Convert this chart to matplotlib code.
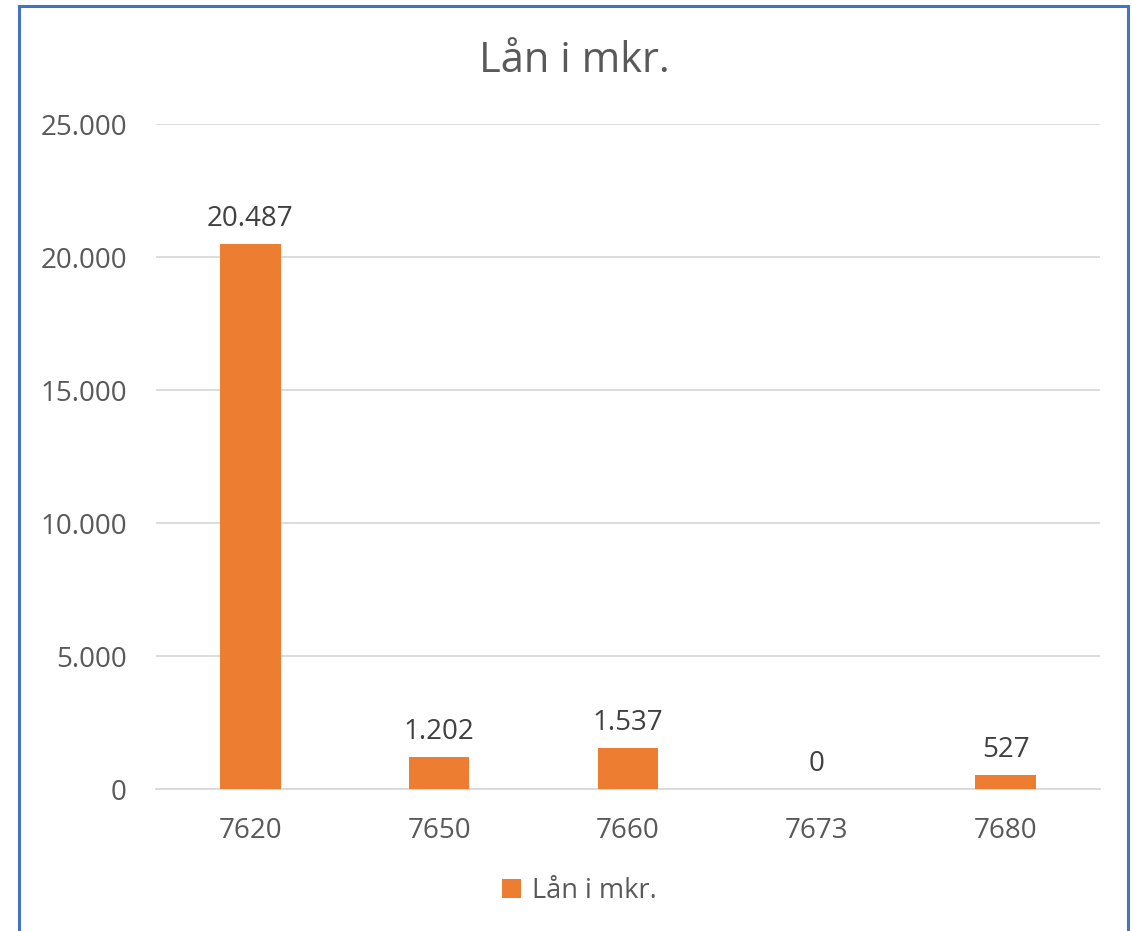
import matplotlib.pyplot as plt
from matplotlib.patches import Rectangle
from matplotlib.ticker import FuncFormatter

categories = ["7620", "7650", "7660", "7673", "7680"]
values = [20487, 1202, 1537, 0, 527]
series_name = "Lån i mkr."

plt.rcParams['font.family'] = ['Open Sans', 'DejaVu Sans']
grey = "#595959"
orange = "#ED7D31"

fig = plt.figure(figsize=(11.32, 9.31), dpi=100)
ax = fig.add_axes([0.1378, 0.1525, 0.834, 0.7143])

x = range(len(categories))
bars = ax.bar(x, values, width=0.32, color=orange, label=series_name, zorder=3)

def fmt(v):
    return f"{int(v):,}".replace(",", ".")

for b, v in zip(bars, values):
    ax.annotate(fmt(v), (b.get_x() + b.get_width() / 2, v), xytext=(0, 8),
                textcoords="offset points", ha="center", va="bottom",
                fontsize=20, color="#404040")

ax.set_ylim(0, 25000)
ax.set_yticks(range(0, 25001, 5000))
ax.yaxis.set_major_formatter(FuncFormatter(lambda v, p: fmt(v)))
ax.set_xlim(-0.5, len(categories) - 0.5)
ax.set_xticks(list(x))
ax.set_xticklabels(categories)
ax.grid(axis="y", color="#D9D9D9", linewidth=1.3, zorder=0)
for s in ["top", "right", "left"]:
    ax.spines[s].set_visible(False)
ax.spines["bottom"].set_color("#D9D9D9")
ax.spines["bottom"].set_linewidth(1.3)
ax.tick_params(length=0, labelsize=20, labelcolor=grey)
ax.tick_params(axis="y", pad=21)
ax.tick_params(axis="x", pad=20)

fig.text(0.507, 0.935, "Lån i mkr.", ha="center", va="center", fontsize=30, color=grey)

fig.legend(handles=[bars], labels=[series_name], loc="center", bbox_to_anchor=(0.512, 0.043),
           frameon=False, fontsize=19.5, labelcolor=grey, handlelength=0.7, handleheight=0.7,
           handletextpad=0.4)

fig.patches.append(Rectangle((19 / 1132, -0.02), (1128 - 19) / 1132, (931 - 6) / 931 + 0.02,
                             transform=fig.transFigure, fill=False, edgecolor="#4472C4",
                             linewidth=2.2))

fig.savefig("out.png", dpi=100)
